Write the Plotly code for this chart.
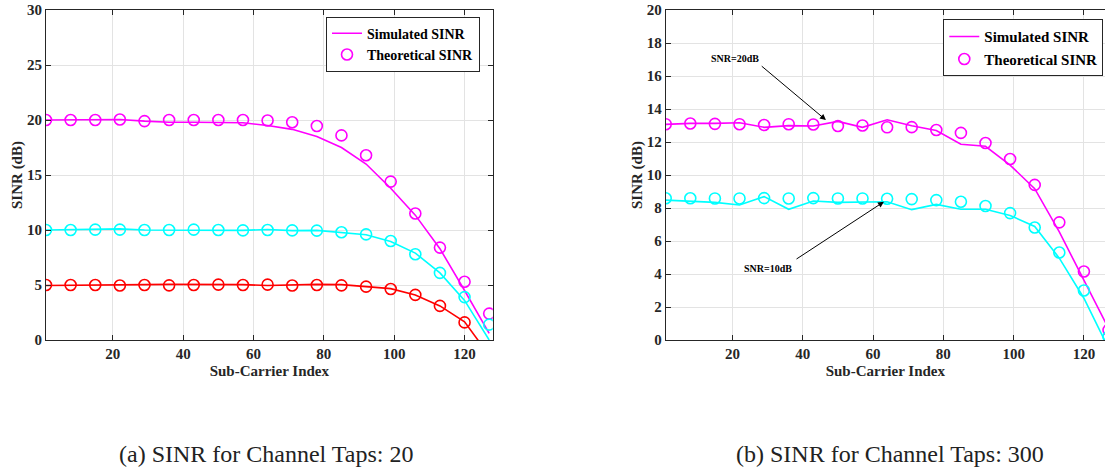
import plotly.graph_objects as go

# ---------------- data ----------------
subcarrier = [1, 8, 15, 22, 29, 36, 43, 50, 57, 64, 71, 78, 85, 92, 99, 106, 113, 120, 127]

# (a) Channel taps: 20
sim20_a = [20.0, 20.0, 20.0, 20.05, 19.9, 19.8, 19.8, 19.75, 19.75, 19.5, 19.15, 18.5, 17.5, 16.0, 13.8, 11.35, 8.3, 4.5, 0.6]
theo20_a = [20.0, 20.0, 20.0, 20.05, 19.9, 20.0, 20.0, 20.0, 20.0, 19.95, 19.8, 19.45, 18.6, 16.8, 14.4, 11.5, 8.4, 5.3, 2.4]
sim10_a = [10.0, 10.03, 10.03, 10.1, 10.0, 10.0, 10.0, 10.0, 9.97, 10.05, 9.94, 9.97, 9.75, 9.57, 8.95, 7.9, 6.1, 3.6, 0.0]
theo10_a = [10.0, 10.0, 10.03, 10.03, 10.0, 10.0, 10.03, 10.0, 9.97, 10.0, 9.97, 9.94, 9.8, 9.6, 9.0, 7.8, 6.1, 3.9, 1.4]
sim5_a = [4.95, 4.97, 4.97, 4.95, 5.03, 5.06, 5.06, 5.06, 5.03, 4.95, 5.03, 5.06, 5.03, 4.88, 4.67, 4.1, 3.1, 1.65, -1.4]
theo5_a = [5.0, 5.0, 5.0, 4.95, 5.0, 4.97, 5.0, 5.03, 5.0, 5.03, 4.95, 5.0, 4.97, 4.85, 4.64, 4.1, 3.1, 1.6, -1.3]

# (b) Channel taps: 300
sim20_b = [13.07, 13.13, 13.13, 13.17, 12.89, 12.99, 12.97, 13.25, 12.89, 13.35, 12.98, 12.7, 11.86, 11.74, 10.6, 9.17, 6.55, 3.6, 0.7]
theo20_b = [13.08, 13.12, 13.1, 13.08, 13.03, 13.08, 13.06, 12.97, 13.0, 12.89, 12.9, 12.73, 12.55, 11.94, 10.97, 9.4, 7.13, 4.15, 0.6]
sim10_b = [8.48, 8.42, 8.34, 8.18, 8.69, 7.92, 8.42, 8.34, 8.38, 8.38, 7.9, 8.22, 7.92, 7.92, 7.55, 6.88, 4.96, 2.53, -0.5]
theo10_b = [8.59, 8.59, 8.58, 8.58, 8.6, 8.58, 8.6, 8.58, 8.58, 8.56, 8.54, 8.48, 8.38, 8.12, 7.69, 6.82, 5.3, 3.0, 0.2]

x_ticks = [20, 40, 60, 80, 100, 120]
y_ticks_a = [0, 5, 10, 15, 20, 25, 30]
y_ticks_b = [0, 2, 4, 6, 8, 10, 12, 14, 16, 18, 20]

captions = ["(a) SINR for Channel Taps: 20", "(b) SINR for Channel Taps: 300"]
legend_names = ["Simulated SINR", "Theoretical SINR"]

# --------------- styling ---------------
MAG, CYA, RED = "#ff00ff", "#00ffff", "#ff0000"
AX = "#262626"
GRID = "#e3e3e3"
FONT = "Liberation Serif"

fig = go.Figure()

def add_pair(sim, theo, color, xa, ya, legend, show):
    fig.add_trace(go.Scatter(x=subcarrier, y=sim, mode="lines", name=legend_names[0],
                             line=dict(color=color, width=1.6), xaxis=xa, yaxis=ya,
                             legend=legend, showlegend=show))
    fig.add_trace(go.Scatter(x=subcarrier, y=theo, mode="markers", name=legend_names[1],
                             marker=dict(symbol="circle-open", size=11, color=color,
                                         line=dict(width=1.6, color=color)),
                             xaxis=xa, yaxis=ya, legend=legend, showlegend=show))

add_pair(sim20_a, theo20_a, MAG, "x", "y", "legend", True)
add_pair(sim10_a, theo10_a, CYA, "x", "y", "legend", False)
add_pair(sim5_a, theo5_a, RED, "x", "y", "legend", False)

add_pair(sim20_b, theo20_b, MAG, "x2", "y2", "legend2", True)
add_pair(sim10_b, theo10_b, CYA, "x2", "y2", "legend2", False)

tick_font = dict(family=FONT, size=15, color=AX, weight="bold")
title_font = dict(family=FONT, size=15, color=AX, weight="bold")

def xaxis(domain, rng, anchor):
    return dict(domain=domain, range=rng, anchor=anchor, tickvals=x_ticks,
                ticks="inside", ticklen=5, tickcolor=AX, showline=True, linecolor=AX,
                linewidth=1, mirror="allticks", showgrid=True, gridcolor=GRID, gridwidth=1,
                zeroline=False, tickfont=tick_font,
                title=dict(text="Sub-Carrier Index", font=title_font, standoff=4))

def yaxis(rng, ticks, anchor, mirror):
    return dict(domain=[0, 1], range=rng, anchor=anchor, tickvals=ticks,
                ticks="inside", ticklen=5, tickcolor=AX, showline=True, linecolor=AX,
                linewidth=1, mirror=mirror, showgrid=True, gridcolor=GRID, gridwidth=1,
                zeroline=False, tickfont=tick_font,
                title=dict(text="SINR (dB)", font=title_font, standoff=0))

W, H = 1105, 467
ML, MR, MT, MB = 46, 0, 10, 127
pw = W - ML - MR

fig.update_layout(
    width=W, height=H,
    margin=dict(l=ML, r=MR, t=MT, b=MB),
    paper_bgcolor="white", plot_bgcolor="white",
    font=dict(family=FONT, color=AX),
    xaxis=xaxis([0, (492.7 - ML) / pw], [1, 128], "y"),
    yaxis=yaxis([0, 30], y_ticks_a, "x", "allticks"),
    xaxis2=xaxis([(665.7 - ML) / pw, 1], [1, 126], "y2"),
    yaxis2=yaxis([0, 20], y_ticks_b, "x2", False),
    legend=dict(x=(480 - ML) / pw, y=1 - (16.7 - MT) / 330, xanchor="right", yanchor="top",
                bgcolor="white", bordercolor="#262626", borderwidth=1,
                font=dict(family=FONT, size=14, color="black", weight="bold"),
                itemwidth=30, tracegroupgap=0),
    legend2=dict(x=(1103.3 - ML) / pw, y=1 - (19.3 - MT) / 330, xanchor="right", yanchor="top",
                 bgcolor="white", bordercolor="#262626", borderwidth=1,
                 font=dict(family=FONT, size=15, color="black", weight="bold"),
                 itemwidth=30, tracegroupgap=0),
)

ann_font = dict(family=FONT, size=10, color="black", weight="bold")
# SNR=20dB annotation (right plot)
fig.add_annotation(x=20.8, y=17.07, xref="x2", yref="y2", text="SNR=20dB", showarrow=False, font=ann_font)
fig.add_annotation(x=46.6, y=13.33, ax=27.9, ay=16.67, xref="x2", yref="y2", axref="x2", ayref="y2",
                   text="", showarrow=True, arrowhead=2, arrowsize=1.2, arrowwidth=1, arrowcolor="black")
# SNR=10dB annotation
fig.add_annotation(x=30.2, y=4.34, xref="x2", yref="y2", text="SNR=10dB", showarrow=False, font=ann_font)
fig.add_annotation(x=63.1, y=8.38, ax=37.8, ay=4.85, xref="x2", yref="y2", axref="x2", ayref="y2",
                   text="", showarrow=True, arrowhead=2, arrowsize=1.2, arrowwidth=1, arrowcolor="black")

# captions
cap_font = dict(family=FONT, size=24, color="#222222")
fig.add_annotation(x=(266 - ML) / pw, y=-(454 - 340) / 330, xref="paper", yref="paper",
                   text=captions[0], showarrow=False, font=cap_font, xanchor="center", yanchor="middle")
fig.add_annotation(x=(890 - ML) / pw, y=-(454 - 340) / 330, xref="paper", yref="paper",
                   text=captions[1], showarrow=False, font=cap_font, xanchor="center", yanchor="middle")

fig.write_html("out.html",
               config={"displayModeBar": False},
               post_script="document.body.style.margin='0';document.body.style.overflow='hidden';")
